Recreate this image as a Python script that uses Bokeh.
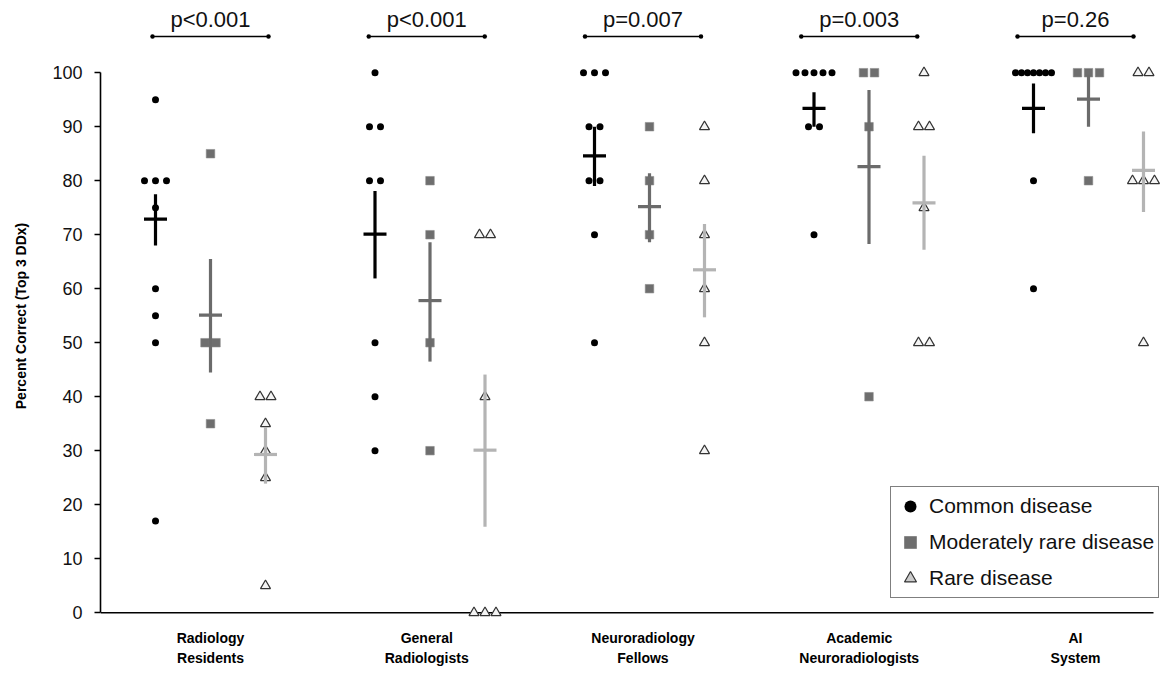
from bokeh.plotting import figure
from bokeh.models import FixedTicker, Legend, LegendItem, ColumnDataSource
from bokeh.core.properties import value
from bokeh.embed import file_html
from bokeh.resources import INLINE

# ---------------- data ----------------
groups = ["Radiology\nResidents", "General\nRadiologists", "Neuroradiology\nFellows",
          "Academic\nNeuroradiologists", "AI\nSystem"]
p_values = ["p<0.001", "p<0.001", "p=0.007", "p=0.003", "p=0.26"]
y_ticks = [0, 10, 20, 30, 40, 50, 60, 70, 80, 90, 100]

common_scores = [
    [95, 80, 80, 80, 75, 60, 55, 50, 17],
    [100, 90, 90, 80, 80, 50, 40, 30],
    [100, 100, 100, 90, 90, 80, 80, 70, 50],
    [100, 100, 100, 100, 100, 90, 90, 70],
    [100, 100, 100, 100, 100, 100, 100, 80, 60],
]
moderate_scores = [
    [85, 50, 50, 35],
    [80, 70, 50, 30],
    [90, 80, 70, 60],
    [100, 100, 90, 40],
    [100, 100, 100, 80],
]
rare_scores = [
    [40, 40, 35, 30, 25, 5],
    [70, 70, 40, 0, 0, 0],
    [90, 80, 70, 60, 50, 30],
    [100, 90, 90, 75, 50, 50],
    [100, 100, 80, 80, 80, 50],
]

common_mean = [72.9, 70.1, 84.6, 93.4, 93.4]
common_low = [68.0, 61.9, 79.0, 90.0, 88.8]
common_high = [77.5, 78.1, 90.0, 96.4, 98.0]
moderate_mean = [55.1, 57.8, 75.2, 82.6, 95.1]
moderate_low = [44.5, 46.5, 68.6, 68.3, 90.0]
moderate_high = [65.5, 68.6, 81.4, 96.8, 99.6]
rare_mean = [29.3, 30.1, 63.5, 75.9, 81.9]
rare_low = [23.9, 15.9, 54.7, 67.2, 74.2]
rare_high = [34.4, 44.1, 72.0, 84.6, 89.1]

# ---------------- layout constants ----------------
FONT = "Liberation Sans"
PX = 219.5                     # pixels per group unit
PY = 5.4                       # pixels per percent
X_START = 1 - 110.0 / PX
X_END = X_START + 1060.0 / PX
Y_START = -2.0
Y_END = Y_START + 615.0 / PY
SUB = 55.0 / PX                # offset of common / rare columns
LABEL_STEP = 216.25 / PX       # spacing of category labels / brackets
BRACKET_HALF = 58.0 / PX
CROSS_HALF = 11.5 / PX
NAN = float("nan")

COLORS = {"common": "#000000", "moderate": "#6b6b6b", "rare": "#b4b4b4"}

p = figure(width=1160, height=673, x_range=(X_START, X_END), y_range=(Y_START, Y_END),
           output_backend="svg", toolbar_location=None,
           min_border_left=100, min_border_right=0, min_border_top=8, min_border_bottom=50)
p.outline_line_color = None
p.xgrid.visible = False
p.ygrid.visible = False
p.background_fill_color = "white"
p.border_fill_color = "white"


def dodge(vals, center):
    counts = {}
    for v in vals:
        counts[v] = counts.get(v, 0) + 1
    seen = {}
    xs = []
    for v in vals:
        k = counts[v]
        j = seen.get(v, 0)
        seen[v] = j + 1
        sp = min(11.0, 36.0 / (k - 1)) if k > 1 else 0.0
        xs.append(center + (j - (k - 1) / 2.0) * sp / PX)
    return xs


def collect(scores, off):
    xs, ys = [], []
    for gi, vals in enumerate(scores):
        xs += dodge(vals, gi + 1 + off)
        ys += vals
    return ColumnDataSource(dict(x=xs, y=ys))


# crosses (mean +/- error)
def cross(mean, low, high, off, color):
    cx = [i + 1 + off for i in range(len(mean))]
    p.segment(x0=cx, x1=cx, y0=low, y1=high, line_color=color, line_width=3.2, line_cap="butt")
    p.segment(x0=[c - CROSS_HALF for c in cx], x1=[c + CROSS_HALF for c in cx],
              y0=mean, y1=mean, line_color=color, line_width=3.2, line_cap="butt")


# baseline (x axis line at 0)
p.segment(x0=[X_START], x1=[1 + (1153 - 210) / PX], y0=[0], y1=[0], line_color="black", line_width=1.6)

r_c = p.scatter("x", "y", source=collect(common_scores, -SUB), marker="circle", size=7,
                fill_color="black", line_color=None)
r_m = p.scatter("x", "y", source=collect(moderate_scores, 0.0), marker="square", size=8.5,
                fill_color="#6e6e6e", line_color="#8a8a8a", line_width=0.6)
r_r = p.scatter("x", "y", source=collect(rare_scores, SUB), marker="triangle", size=10,
                fill_color="#f4f4f4", line_color="#333333", line_width=1.2)

cross(common_mean, common_low, common_high, -SUB, COLORS["common"])
cross(moderate_mean, moderate_low, moderate_high, 0.0, COLORS["moderate"])
cross(rare_mean, rare_low, rare_high, SUB, COLORS["rare"])

# significance brackets
label_pos = [1 + i * LABEL_STEP for i in range(len(groups))]
bx0 = [c - BRACKET_HALF for c in label_pos]
bx1 = [c + BRACKET_HALF for c in label_pos]
by = [106.7] * len(groups)
p.segment(x0=bx0, x1=bx1, y0=by, y1=by, line_color="black", line_width=1.5)
p.scatter(x=bx0 + bx1, y=by + by, marker="circle", size=4.5, fill_color="black", line_color=None)
p.text(x=label_pos, y=[109.8] * len(groups), text=p_values, text_font=value(FONT),
       text_font_size="22px", text_align="center", text_baseline="alphabetic", text_color="#111111")

# legend proxies (a single NaN point is never drawn, only its legend glyph)
l_c = p.scatter(x=[NAN], y=[NAN], marker="circle", fill_color="black", line_color=None)
l_m = p.scatter(x=[NAN], y=[NAN], marker="square", fill_color="#6e6e6e", line_color="#8a8a8a")
l_r = p.scatter(x=[NAN], y=[NAN], marker="triangle", fill_color="#cccccc", line_color="#333333",
                line_width=1.2)
legend = Legend(items=[LegendItem(label="Common disease", renderers=[l_c]),
                       LegendItem(label="Moderately rare disease", renderers=[l_m]),
                       LegendItem(label="Rare disease", renderers=[l_r])],
                location=(790, 25), orientation="vertical",
                label_text_font=FONT, label_text_font_size="21px", label_text_color="#111111",
                glyph_width=30, glyph_height=30, label_height=30, spacing=6, padding=4,
                label_standoff=4, border_line_color="black", border_line_width=1.5,
                background_fill_color="white", background_fill_alpha=1.0, margin=0)
p.add_layout(legend, "center")

# y axis
p.yaxis.ticker = FixedTicker(ticks=y_ticks)
p.yaxis.bounds = (0, 100)
p.yaxis.axis_label = "Percent Correct (Top 3 DDx)"
p.yaxis.axis_label_text_font = FONT
p.yaxis.axis_label_text_font_size = "14px"
p.yaxis.axis_label_text_font_style = "bold"
p.yaxis.axis_label_text_color = "black"
p.yaxis.axis_label_standoff = 20
p.yaxis.major_label_text_font = FONT
p.yaxis.major_label_text_font_size = "18px"
p.yaxis.major_label_text_color = "#111111"
p.yaxis.major_label_standoff = 12
p.yaxis.major_tick_in = 0
p.yaxis.major_tick_out = 6
p.yaxis.major_tick_line_width = 1.5
p.yaxis.major_tick_line_color = "black"
p.yaxis.minor_tick_line_color = None
p.yaxis.axis_line_width = 1.6
p.yaxis.axis_line_color = "black"

# x axis
p.xaxis.ticker = FixedTicker(ticks=label_pos)
p.xaxis.major_label_overrides = {pos: g for pos, g in zip(label_pos, groups)}
p.xaxis.major_label_text_font = FONT
p.xaxis.major_label_text_font_size = "14px"
p.xaxis.major_label_text_font_style = "bold"
p.xaxis.major_label_text_color = "black"
p.xaxis.major_label_text_line_height = 1.3
p.xaxis.major_label_standoff = 6
p.xaxis.major_tick_in = 0
p.xaxis.major_tick_out = 0
p.xaxis.major_tick_line_color = None
p.xaxis.minor_tick_line_color = None
p.xaxis.axis_line_color = None

open("out.html", "w").write(file_html(p, INLINE))
